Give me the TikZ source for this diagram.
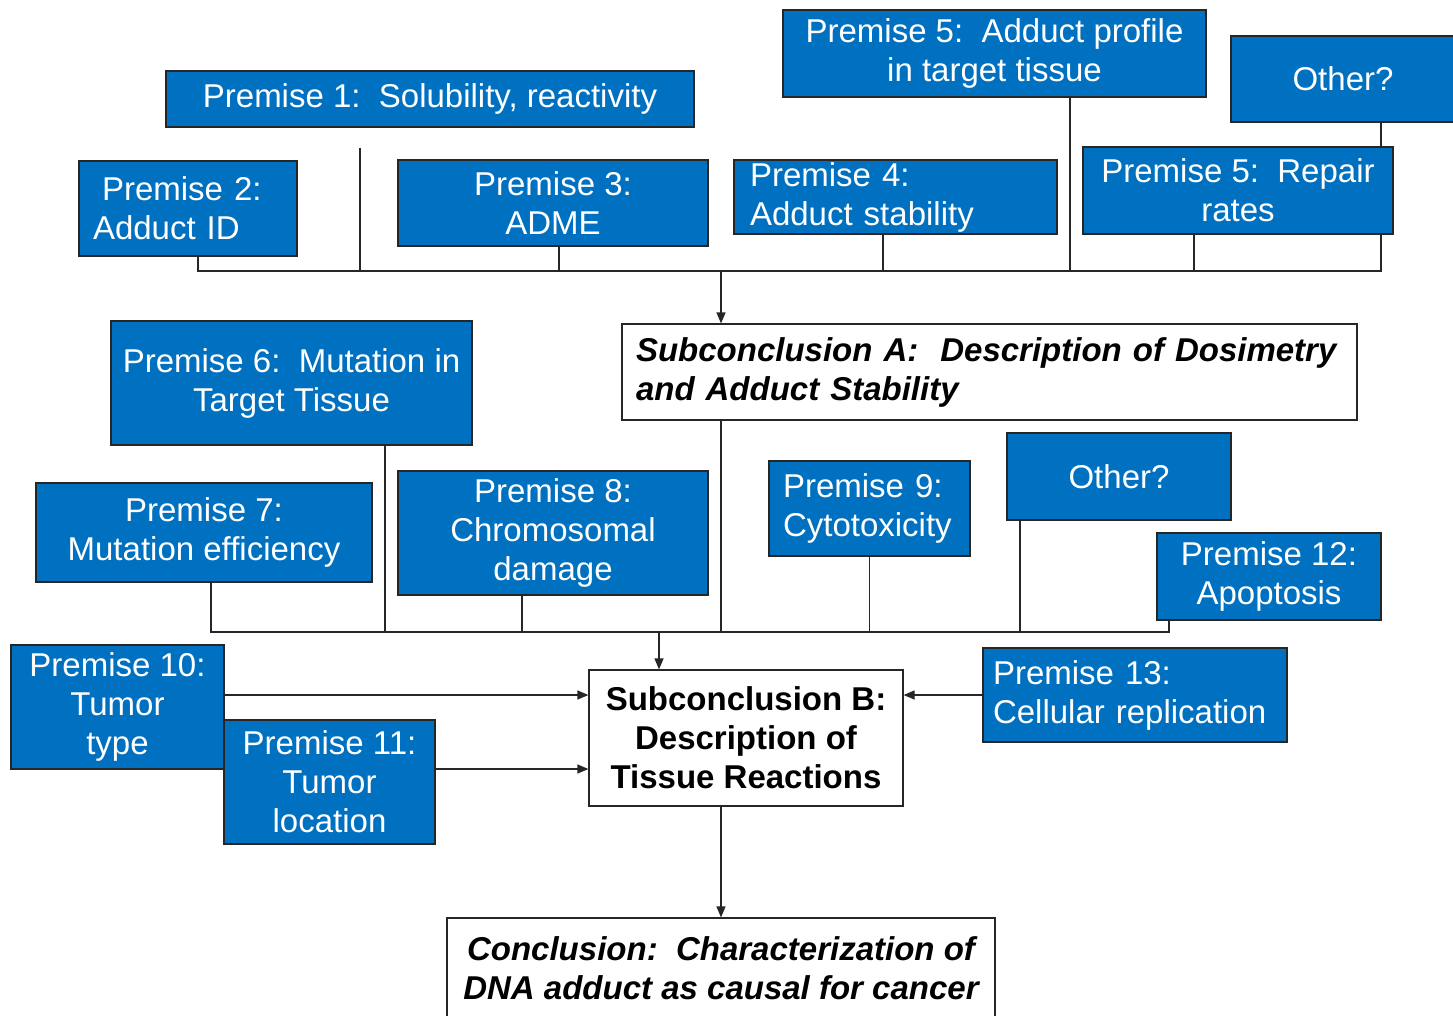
\documentclass[tikz,border=0pt]{standalone}
\usepackage{fontspec}
\setmainfont{Liberation Sans}
\usepackage{tikz}
\usetikzlibrary{arrows.meta,backgrounds}
\usepackage{xcolor}
\definecolor{premblue}{RGB}{0,112,192}

\begin{document}
\begin{tikzpicture}[x=1pt,y=-1pt,
        premise/.style={draw=black!85, line width=1.2pt, fill=premblue, text=white,
            inner sep=0pt, align=center, font=\fontsize{33}{39}\selectfont},
        leftpremise/.style={premise, align=left},
        claim/.style={draw=black!85, line width=1.2pt, fill=white, text=black,
            inner sep=0pt, align=center, font=\fontsize{33}{39}\selectfont\bfseries},
        link/.style={draw=black!85, line width=1.2pt},
        arr/.style={link, -{Triangle[length=11pt,width=9pt]}}]
        % Fix the page to the reference size
        \useasboundingbox (0,0) rectangle (1453,1015);

        % First group of premises (dosimetry)
        \node[premise, minimum width=528pt, minimum height=56pt] (p1) at (430,99) {Premise 1:\ \ Solubility, reactivity};
        \node[leftpremise, minimum width=218pt, minimum height=95pt, text width=190pt] (p2) at (188,208.5) {\hspace*{9pt}Premise 2:\\Adduct ID};
        \node[premise, minimum width=310pt, minimum height=86pt] (p3) at (553,203) {Premise 3:\\ADME};
        \node[leftpremise, minimum width=323pt, minimum height=74pt, text width=291pt] (p4) at (895.5,197) {Premise 4:\\Adduct stability};
        \node[premise, minimum width=423pt, minimum height=87pt] (p5a) at (994.5,53.5) {Premise 5:\ \ Adduct profile\\in target tissue};
        \node[premise, minimum width=224pt, minimum height=86pt] (oth1) at (1343,79) {Other?};
        \node[premise, minimum width=310pt, minimum height=87pt] (p5b) at (1238,190.5) {Premise 5:\ \ Repair\\rates};

        % Subconclusion A
        \node[claim, align=left, minimum width=735pt, minimum height=96pt, text width=707pt] (subA) at (989.5,372) {\itshape Subconclusion A:\ \ Description of Dosimetry\\\itshape and Adduct Stability};

        % Second group of premises (tissue reactions)
        \node[premise, minimum width=361pt, minimum height=124pt] (p6) at (291.5,383) {Premise 6:\ \ Mutation in\\Target Tissue};
        \node[premise, minimum width=336pt, minimum height=99pt] (p7) at (204,532.5) {Premise 7:\\Mutation efficiency};
        \node[premise, minimum width=310pt, minimum height=124pt] (p8) at (553,533) {Premise 8:\\Chromosomal\\damage};
        \node[leftpremise, minimum width=201pt, minimum height=95pt, text width=173pt] (p9) at (869.5,508.5) {Premise 9:\\Cytotoxicity};
        \node[premise, minimum width=224pt, minimum height=87pt] (oth2) at (1119,476.5) {Other?};
        \node[premise, minimum width=224pt, minimum height=87pt] (p12) at (1269,576.5) {Premise 12:\\Apoptosis};
        \node[premise, minimum width=213pt, minimum height=124pt] (p10) at (117.5,707) {Premise 10:\\Tumor\\type};
        \node[premise, minimum width=211pt, minimum height=124pt] (p11) at (329.5,782) {Premise 11:\\Tumor\\location};
        \node[leftpremise, minimum width=304pt, minimum height=94pt, text width=284pt] (p13) at (1135,695) {\hyphenpenalty=10000 Premise 13:\\Cellular replication};

        % Subconclusion B and conclusion
        \node[claim, minimum width=314pt, minimum height=136pt] (subB) at (746,738) {Subconclusion B:\\Description of\\Tissue Reactions};
        \node[claim, minimum width=548pt, minimum height=100pt] (conc) at (721,968) {\itshape Conclusion:\ \ Characterization of\\\itshape DNA adduct as causal for cancer};

        % Junctions of the two buses
        \coordinate (jA) at (721,271);
        \coordinate (jB) at (659,632);

        \begin{scope}[on background layer]
            % Bus into subconclusion A
            \draw[link] ([xshift=10pt]p2.south) |- (jA);
            \draw[link] ([xshift=-70pt,yshift=-20pt]p1.south) |- (jA);
            \draw[link] ([xshift=6pt]p3.south) |- (jA);
            \draw[link] ([xshift=-12.5pt]p4.south) |- (jA);
            \draw[link] ([xshift=75.5pt]p5a.south) |- (jA);
            \draw[link] ([xshift=-44pt]p5b.south) |- (jA);
            \draw[link] ([xshift=38pt]oth1.south) |- (jA);
            \draw[arr] (jA) -- (jA |- subA.north);

            % Bus into subconclusion B
            \draw[link] ([xshift=7pt]p7.south) |- (jB);
            \draw[link] ([xshift=93.5pt]p6.south) |- (jB);
            \draw[link] ([xshift=-31pt]p8.south) |- (jB);
            \draw[link] (jA |- subA.south) |- (jB);
            \draw[link] (p9.south) |- (jB);
            \draw[link] ([xshift=-99pt]oth2.south) |- (jB);
            \draw[link] ([xshift=-100pt]p12.south) |- (jB);
            \draw[arr] (jB) -- (jB |- subB.north);

            % Side premises
            \draw[arr] ([yshift=12pt]p10.east) -- ([yshift=43pt]subB.west);
            \draw[arr] ([yshift=13pt]p11.east) -- ([yshift=-31pt]subB.west);
            \draw[arr] (p13.west) -- ([yshift=43pt]subB.east);
            \draw[arr] ([xshift=-25pt]subB.south) -- (conc.north);
        \end{scope}
    \end{tikzpicture}
\end{document}
